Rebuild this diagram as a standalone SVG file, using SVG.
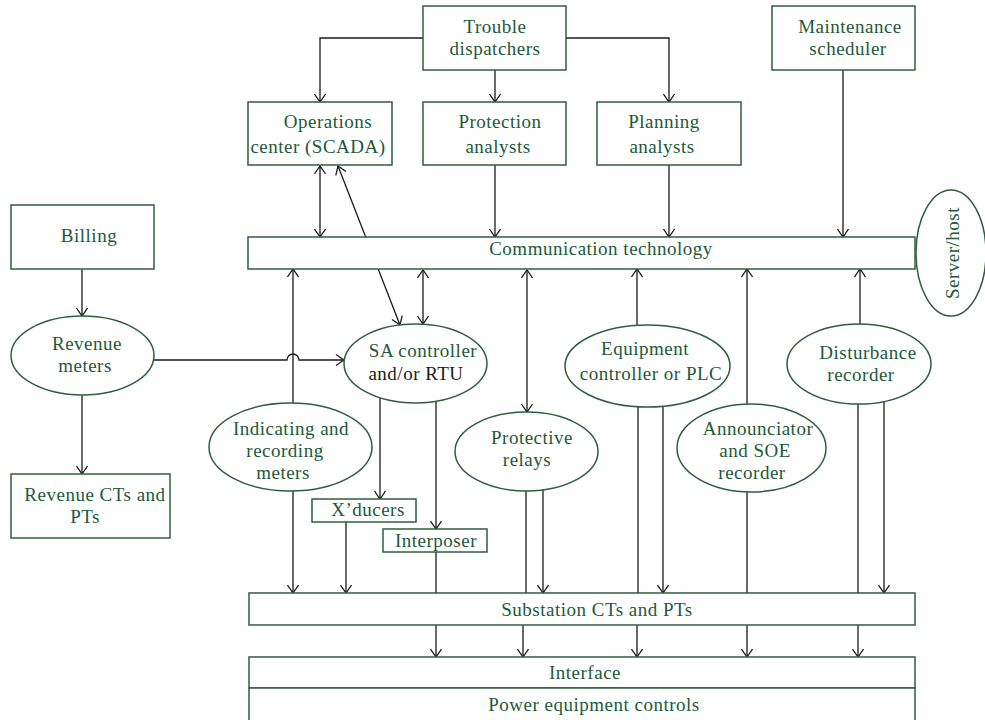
<svg xmlns="http://www.w3.org/2000/svg" width="985" height="720" viewBox="0 0 985 720">
<style>
.n{fill:#fff;stroke:#2e5e3e;stroke-width:1.5}
.t{font-family:"Liberation Serif","Times New Roman",serif;font-size:19px;letter-spacing:0.5px;fill:#22593a;text-anchor:middle}
.k{fill:#1a1a1a}
.c{fill:none;stroke:#1a1a1a;stroke-width:1.3}
.a{marker-end:url(#ar)}
.d{marker-start:url(#ar);marker-end:url(#ar)}
</style>
<defs>
<marker id="ar" viewBox="0 0 12 12" refX="11" refY="6" markerWidth="12" markerHeight="12" markerUnits="userSpaceOnUse" orient="auto-start-reverse">
<path d="M3,0.5 L11,6 L3,11.5" fill="none" stroke="#1a1a1a" stroke-width="1.3"/>
</marker>
</defs>
<g id="connectors">
<path class="c a" d="M423,38 H320 V102"/>
<path class="c a" d="M566,38 H669 V102"/>
<path class="c a" d="M495,70 V102"/>
<path class="c d" d="M320,166 V237"/>
<path class="c d" d="M338,166 L400,325"/>
<path class="c a" d="M495,165 V237"/>
<path class="c a" d="M669,165 V237"/>
<path class="c a" d="M843,70 V237"/>
<path class="c a" d="M82,269 V316"/>
<path class="c a" d="M82,395 V474"/>
<path class="c a" d="M154,360 H287 A6,6 0 0 1 299,360 H344"/>
<path class="c a" d="M293,403 V269"/>
<path class="c d" d="M423,270 V324"/>
<path class="c d" d="M527,270 V412"/>
<path class="c a" d="M637,325 V269"/>
<path class="c a" d="M747,404 V269"/>
<path class="c a" d="M860,324 V269"/>
<path class="c a" d="M380,398 V499"/>
<path class="c a" d="M436,401 V529"/>
<path class="c a" d="M293,491 V593"/>
<path class="c a" d="M346,522 V593"/>
<path class="c" d="M436,552 V593"/>
<path class="c" d="M526,491 V593"/>
<path class="c a" d="M543,490 V593"/>
<path class="c" d="M638,407 V593"/>
<path class="c a" d="M663,406 V593"/>
<path class="c" d="M747,492 V593"/>
<path class="c" d="M858,404 V593"/>
<path class="c a" d="M884,401 V593"/>
<path class="c a" d="M436,625 V657"/>
<path class="c a" d="M523,625 V657"/>
<path class="c a" d="M637,625 V657"/>
<path class="c a" d="M747,625 V657"/>
<path class="c a" d="M858,625 V657"/>
</g>
<g id="trouble"><rect class="n" x="423" y="6" width="143" height="64"/><text class="t" x="495" y="33">Trouble</text><text class="t" x="495" y="55">dispatchers</text></g>
<g id="maintenance"><rect class="n" x="772" y="6" width="143" height="64"/><text class="t" x="850" y="33">Maintenance</text><text class="t" x="848" y="55">scheduler</text></g>
<g id="operations"><rect class="n" x="248" y="102" width="144" height="63"/><text class="t" x="328" y="128">Operations</text><text class="t" x="318" y="153">center (SCADA)</text></g>
<g id="protection"><rect class="n" x="423" y="102" width="143" height="63"/><text class="t" x="500" y="128">Protection</text><text class="t" x="498" y="153">analysts</text></g>
<g id="planning"><rect class="n" x="597" y="102" width="144" height="63"/><text class="t" x="664" y="128">Planning</text><text class="t" x="662" y="153">analysts</text></g>
<g id="comm"><rect class="n" x="248" y="237" width="667" height="32"/><text class="t" x="601" y="255">Communication technology</text></g>
<g id="server"><ellipse class="n" cx="951" cy="253" rx="35" ry="63"/><text class="t" transform="translate(959,253) rotate(-90)">Server/host</text></g>
<g id="billing"><rect class="n" x="11" y="205" width="143" height="64"/><text class="t" x="89" y="242">Billing</text></g>
<g id="revmeters"><ellipse class="n" cx="82.5" cy="355.5" rx="71.5" ry="39.5"/><text class="t" x="87" y="350">Revenue</text><text class="t" x="85" y="372">meters</text></g>
<g id="revcts"><rect class="n" x="11" y="474" width="159" height="64"/><text class="t" x="95" y="501">Revenue CTs and</text><text class="t" x="85" y="523">PTs</text></g>
<g id="sa"><ellipse class="n" cx="415.5" cy="363.5" rx="71.5" ry="39.5"/><text class="t" x="423" y="357">SA controller</text><text class="t k" x="416" y="380">and/or RTU</text></g>
<g id="equipment"><ellipse class="n" cx="647.5" cy="366" rx="82.5" ry="41"/><text class="t" x="645" y="355">Equipment</text><text class="t" x="651" y="380">controller or PLC</text></g>
<g id="disturbance"><ellipse class="n" cx="859" cy="364" rx="72" ry="40"/><text class="t" x="868" y="359">Disturbance</text><text class="t" x="861" y="381">recorder</text></g>
<g id="indicating"><ellipse class="n" cx="290.5" cy="447" rx="81.5" ry="44"/><text class="t" x="291" y="435">Indicating and</text><text class="t" x="285" y="457">recording</text><text class="t" x="283" y="479">meters</text></g>
<g id="relays"><ellipse class="n" cx="526.5" cy="451.5" rx="71.5" ry="39.5"/><text class="t" x="532" y="444">Protective</text><text class="t" x="527" y="466">relays</text></g>
<g id="announciator"><ellipse class="n" cx="751.5" cy="448" rx="74.5" ry="44"/><text class="t" x="758" y="435">Announciator</text><text class="t" x="755" y="457">and SOE</text><text class="t" x="752" y="479">recorder</text></g>
<g id="xducers"><rect class="n" x="312" y="499" width="104" height="23"/><text class="t" x="368" y="516">X’ducers</text></g>
<g id="interposer"><rect class="n" x="383" y="529" width="104" height="23"/><text class="t" x="436" y="547">Interposer</text></g>
<g id="substation"><rect class="n" x="249" y="593" width="666" height="32"/><text class="t" x="597" y="616">Substation CTs and PTs</text></g>
<g id="interface"><rect class="n" x="249" y="657" width="666" height="31"/><text class="t" x="585" y="679">Interface</text></g>
<g id="power"><rect class="n" x="249" y="688" width="666" height="40"/><text class="t" x="594" y="711">Power equipment controls</text></g>
</svg>
